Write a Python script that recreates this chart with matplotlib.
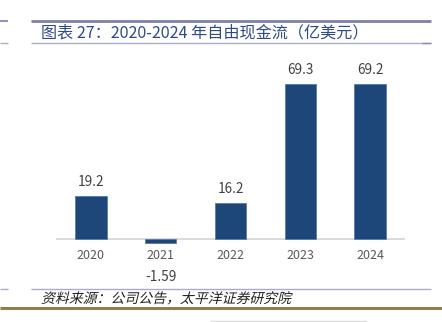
import matplotlib
matplotlib.use("Agg")
import matplotlib.pyplot as plt
from matplotlib.patheffects import AbstractPathEffect
from matplotlib.transforms import Affine2D
from matplotlib.lines import Line2D

plt.rcParams['font.family'] = ['Noto Sans CJK SC', 'DejaVu Sans']

years = ["2020", "2021", "2022", "2023", "2024"]
fcf = [19.2, -1.59, 16.2, 69.3, 69.2]
value_labels = ["19.2", "-1.59", "16.2", "69.3", "69.2"]
title = "图表 27：2020-2024 年自由现金流（亿美元）"
source = "资料来源：公司公告，太平洋证券研究院"


class Skew(AbstractPathEffect):
    def __init__(self, deg=14):
        super().__init__()
        self.deg = deg

    def draw_path(self, renderer, gc, tpath, affine, rgbFace=None):
        renderer.draw_path(gc, tpath, Affine2D().skew_deg(self.deg, 0) + affine, rgbFace)


W, H = 442, 322
fig = plt.figure(figsize=(W / 100, H / 100), dpi=100)

def fx(px):
    return px / W

def fy(py):
    return 1 - py / H

# axes placement
ax_top, ax_bot = 70, 245
ax = fig.add_axes([fx(56), fy(ax_bot), fx(405) - fx(56), (ax_bot - ax_top) / H])
base = 239.3
ppu = 2.24
ax.set_ylim(-(ax_bot - base) / ppu, (base - ax_top) / ppu)
ax.set_xlim(-0.5, len(years) - 0.5)

x = list(range(len(years)))
ax.bar(x, fcf, width=0.45, color="#1d4679", edgecolor="#5a7bb0", linewidth=0.6, zorder=3)
ax.axhline(0, color="#d4d4d4", linewidth=1.2, zorder=2)

for xi, v, lab in zip(x, fcf, value_labels):
    if v >= 0:
        ax.annotate(lab, (xi, v), xytext=(0, 5), textcoords="offset points",
                    ha="center", va="bottom", fontsize=9.8, color="#404040")
    else:
        ax.annotate(lab, (xi, v), xytext=(0, -19.5), textcoords="offset points",
                    ha="center", va="top", fontsize=9.8, color="#404040")

ax.set_xticks(x)
ax.set_xticklabels(years, fontsize=9, color="#595959")
ax.tick_params(axis="x", length=0, pad=3)
ax.set_yticks([])
for s in ax.spines.values():
    s.set_visible(False)
ax.patch.set_alpha(0)

# header decoration
def hline(y, x0, x1, color, lw):
    fig.add_artist(Line2D([fx(x0), fx(x1)], [fy(y), fy(y)], color=color, linewidth=lw,
                          transform=fig.transFigure, solid_capstyle="butt"))

hline(20.5, 31, 431, "#7d80aa", 2.0)
hline(20.5, 0, 8, "#7d80aa", 1.2)
hline(43.3, 31, 431, "#a9abc8", 1.0)
hline(43.3, 0, 8, "#a9abc8", 1.0)
hline(43.3, 422, 431, "#8a8cb0", 1.0)

fig.text(fx(41), fy(32.5), title, fontsize=11.6, color="#2e4b85", ha="left", va="center")

# footer decoration
hline(289.3, 31, 431, "#a9abc8", 1.0)
hline(289.3, 0, 8, "#a9abc8", 1.0)
fig.text(fx(41), fy(299), source, fontsize=10, color="#222222", ha="left", va="center",
         path_effects=[Skew(14)])
hline(308.3, 0, 442, "#8c8050", 2.2)
hline(320.8, 210, 366, "#dcdcdc", 1.0)

fig.savefig("out.png", dpi=100)
